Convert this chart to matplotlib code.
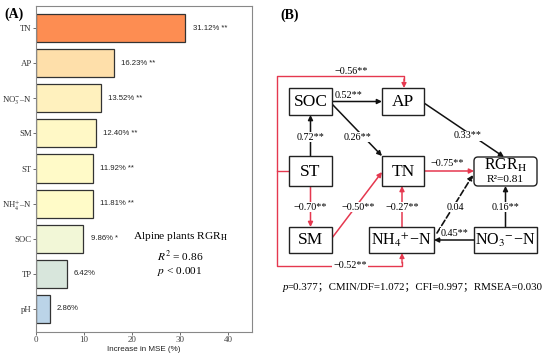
import matplotlib
matplotlib.use("Agg")
import matplotlib.pyplot as plt
from matplotlib.patches import Rectangle, FancyBboxPatch
import numpy as np

plt.rcParams['mathtext.fontset'] = 'stix'

# ---------------- data (panel A) ----------------
variables = ['TN', 'AP', r'NO$_3^{-}$–N', 'SM', 'ST', r'NH$_4^{+}$–N', 'SOC', 'TP', 'pH']
importance = [31.12, 16.23, 13.52, 12.40, 11.92, 11.81, 9.86, 6.42, 2.86]
signif = ['**', '**', '**', '**', '**', '**', '*', '', '']
bar_colors = ['#FD8D52', '#FEDFAA', '#FFF1BE', '#FFF8C6', '#FFFAC8', '#FFFBC8',
              '#F2F7D7', '#D8E6DC', '#BBD4E8']
xticks = [0, 10, 20, 30, 40]

# ---------------- data (panel B) ----------------
nodes = {
    'SOC': (310.5, 101.5, 43, 27, 'SOC'),
    'AP': (403, 101.5, 42, 27, 'AP'),
    'ST': (310.5, 171, 43, 30, 'ST'),
    'TN': (403, 171, 42, 30, 'TN'),
    'SM': (310.5, 240, 43, 26, 'SM'),
    'NH4': (401.5, 240, 65, 26, r'NH$_4{}^{+}$−N'),
    'NO3': (505.5, 240, 63, 26, r'NO$_3{}^{-}$−N'),
}
rgr_node = (505.5, 171.5, 63, 29)
RED = '#E5384F'
BLK = '#111111'
# straight arrows: start, end, color, linestyle
arrows = [
    ((310.5, 156), (310.5, 115), BLK, '-'),
    ((332, 101.5), (382, 101.5), BLK, '-'),
    ((332, 104), (382, 156), BLK, '-'),
    ((424, 103), (504, 157), BLK, '-'),
    ((424, 171), (474, 171), RED, '-'),
    ((310.5, 186), (310.5, 227), RED, '-'),
    ((332, 238), (382, 172), RED, '-'),
    ((402, 227), (402, 186), RED, '-'),
    ((505.5, 227), (505.5, 186), BLK, '-'),
    ((474, 240), (434, 240), BLK, '-'),
    ((437, 233), (473, 175), BLK, '--'),
]
# path coefficients: label, x, y, boxed
coef_labels = [
    ('−0.56**', 351, 71, False),
    ('0.52**', 349, 96, False),
    ('0.72**', 310.5, 137, True),
    ('0.26**', 358, 137, True),
    ('0.33**', 468, 136, True),
    ('−0.75**', 447, 164, False),
    ('−0.70**', 310.5, 207, True),
    ('−0.50**', 358, 207, True),
    ('−0.27**', 402, 207, True),
    ('0.04', 455, 207, True),
    ('0.16**', 505.5, 207, True),
    ('0.45**', 455, 233, True),
    ('−0.52**', 350, 266, True),
]
fit_text = '=0.377；CMIN/DF=1.072；CFI=0.997；RMSEA=0.030'

W, H = 550, 355
fig = plt.figure(figsize=(W / 100, H / 100), dpi=100)

# ---------------- panel A ----------------
ax = fig.add_axes([36 / W, 1 - 332 / H, (252 - 36) / W, (332 - 6) / H])
ypos = np.arange(len(variables))
ax.barh(ypos, importance, height=0.8, color=bar_colors, edgecolor='#333333', linewidth=0.9)
for y, v, s in zip(ypos, importance, signif):
    ax.text(v + 1.5, y, f'{v:.2f}% {s}'.strip(), va='center', ha='left',
            fontsize=5.6, family='Liberation Sans', color='#222222')
ax.set_xlim(0, 45)
ax.set_ylim(8.655, -0.627)
ax.set_yticks(ypos)
ax.set_yticklabels(variables, family='Liberation Serif', fontsize=6.3, color='#333333')
ax.set_xticks(xticks)
ax.set_xticklabels([str(t) for t in xticks], family='Liberation Serif', fontsize=6.5, color='#444444')
ax.tick_params(length=2, width=0.6, color='#555555', pad=1)
ax.set_xlabel('Increase in MSE (%)', family='Liberation Sans', fontsize=5.8, labelpad=1.5, color='#222222')
for sp in ax.spines.values():
    sp.set_color('#888888')
    sp.set_linewidth(0.8)
ax.text(30.2, 5.95, r'Alpine plants RGR$_\mathrm{H}$', ha='center', va='center',
        family='Liberation Serif', fontsize=8.2)
ax.text(30.0, 6.50, r'$R^2$ = 0.86', ha='center', va='center', family='Liberation Serif', fontsize=8.2)
ax.text(30.0, 6.92, r'$p$ < 0.001', ha='center', va='center', family='Liberation Serif', fontsize=8.2)

# ---------------- panel B ----------------
ov = fig.add_axes([0, 0, 1, 1])
ov.set_xlim(0, W)
ov.set_ylim(H, 0)
ov.axis('off')

fig.text(4 / W, 1 - 14 / H, '(A)', family='Liberation Serif', fontweight='bold', fontsize=10, va='center')
fig.text(280 / W, 1 - 15 / H, '(B)', family='Liberation Serif', fontweight='bold', fontsize=10, va='center')

for key, (cx, cy, w, h, lab) in nodes.items():
    ov.add_patch(Rectangle((cx - w / 2, cy - h / 2), w, h, facecolor='white',
                           edgecolor='#222222', linewidth=1.0, zorder=3))
    ov.text(cx, cy + 0.5, lab, ha='center', va='center', family='Liberation Serif',
            fontsize=12.5 if len(lab) < 5 else 11.5, zorder=4)
cx, cy, w, h = rgr_node
ov.add_patch(FancyBboxPatch((cx - w / 2, cy - h / 2), w, h, boxstyle='round,pad=0,rounding_size=4',
                            facecolor='white', edgecolor='#222222', linewidth=1.0, zorder=3))
ov.text(cx, cy - 6, r'RGR$_\mathrm{H}$', ha='center', va='center', family='Liberation Serif',
        fontsize=11.5, zorder=4)
ov.text(cx, cy + 8.5, r'R²=0.81', ha='center', va='center', family='Liberation Serif',
        fontsize=8.2, zorder=4)

# red orthogonal paths from ST
ov.plot([289, 277, 277, 404, 404], [171, 171, 76, 76, 80], color=RED, lw=1.0, zorder=2)
ov.annotate('', xy=(404, 88), xytext=(404, 79),
            arrowprops=dict(arrowstyle='-|>', color=RED, lw=1.0, mutation_scale=7, shrinkA=0, shrinkB=0))
ov.plot([277, 277, 402, 402], [171, 266, 266, 262], color=RED, lw=1.0, zorder=2)
ov.annotate('', xy=(402, 253), xytext=(402, 263),
            arrowprops=dict(arrowstyle='-|>', color=RED, lw=1.0, mutation_scale=7, shrinkA=0, shrinkB=0))

for (x0, y0), (x1, y1), c, ls in arrows:
    ov.annotate('', xy=(x1, y1), xytext=(x0, y0), zorder=2,
                arrowprops=dict(arrowstyle='-|>', color=c, lw=1.1 if ls == '-' else 1.2,
                                linestyle=ls, mutation_scale=7, shrinkA=0, shrinkB=0))

for lab, x, y, boxed in coef_labels:
    kw = dict(ha='center', va='center', family='Liberation Serif', fontsize=7.3, zorder=5)
    if boxed:
        kw['bbox'] = dict(facecolor='white', edgecolor='none', pad=0.6)
    ov.text(x, y, lab, **kw)

ov.text(283, 287, 'p', ha='left', va='center', family='Liberation Serif', style='italic', fontsize=7.8)
ov.text(287.5, 287, fit_text, ha='left', va='center',
        family=['Liberation Serif', 'Noto Sans CJK SC'], fontsize=7.8)

fig.savefig('out.png', dpi=100)
